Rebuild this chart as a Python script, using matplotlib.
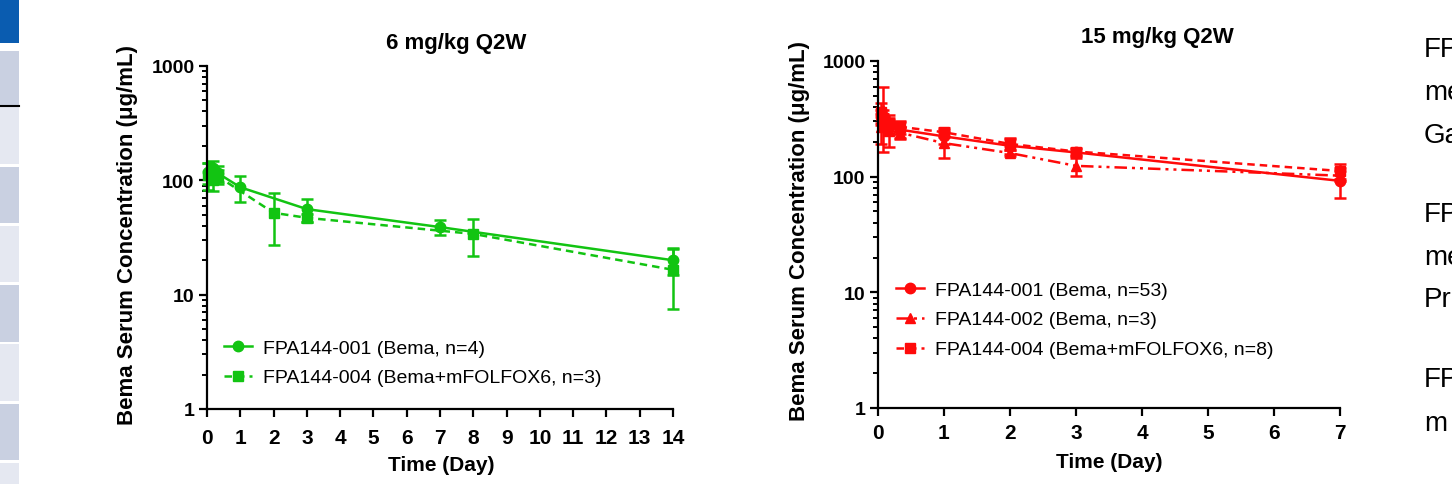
import matplotlib
matplotlib.use('Agg')
import matplotlib.pyplot as plt
import matplotlib.ticker as ticker
from matplotlib.patches import Rectangle
from matplotlib.lines import Line2D

plt.rcParams['font.family'] = ['Liberation Sans', 'DejaVu Sans']

# 6 mg/kg Q2W
low_t1 = [0.042, 0.167, 0.333, 1, 3, 7, 14]
low_v1 = [118, 128, 115, 87, 56, 39, 20]
low_sd1 = [25, 20, 18, 23, 13, 6, 5]
low_t2 = [0.042, 0.167, 0.333, 2, 3, 8, 14]
low_v2 = [112, 100, 108, 52, 47, 34, 16.5]
low_sd2 = [30, 20, 15, 25, 4, 12, 9]
low_labels = ['FPA144-001 (Bema, n=4)', 'FPA144-004 (Bema+mFOLFOX6, n=3)']

# 15 mg/kg Q2W
high_t = [0.042, 0.083, 0.167, 0.333, 1, 2, 3, 7]
high_v1 = [330, 300, 270, 255, 223, 185, 162, 92]
high_sd1 = [50, 45, 40, 40, 32, 28, 10, 26]
high_v2 = [270, 380, 250, 240, 195, 160, 124, 102]
high_sd2 = [80, 215, 70, 30, 50, 10, 22, 10]
high_v3 = [360, 320, 290, 270, 242, 192, 165, 112]
high_sd3 = [70, 60, 50, 35, 20, 22, 12, 17]
high_labels = ['FPA144-001 (Bema, n=53)', 'FPA144-002 (Bema, n=3)',
               'FPA144-004 (Bema+mFOLFOX6, n=8)']

# slide text cut off by the right edge
side_text = ['FPA', 'met', 'Gas', '', 'FPA', 'met', 'Pri', '', 'FPA', 'm']

green = '#12c412'
red = '#ff0a0a'

W, H = 1452, 485
fig = plt.figure(figsize=(W / 100, H / 100), dpi=100)


def px_axes(x0, x1, ytop, ybot):
    return fig.add_axes([x0 / W, 1 - ybot / H, (x1 - x0) / W, (ybot - ytop) / H])


def style_axis(ax, xmax, xpad):
    ax.set_yscale('log')
    ax.set_ylim(1, 1000)
    ax.set_xlim(0, xmax)
    ax.set_xticks(range(0, xmax + 1))
    ax.yaxis.set_major_locator(ticker.LogLocator(base=10, numticks=10))
    ax.yaxis.set_minor_locator(ticker.LogLocator(base=10, subs=range(2, 10), numticks=20))
    ax.yaxis.set_minor_formatter(ticker.NullFormatter())
    ax.yaxis.set_major_formatter(ticker.FuncFormatter(lambda v, p: f'{int(round(v))}'))
    for s in ['top', 'right']:
        ax.spines[s].set_visible(False)
    for s in ['left', 'bottom']:
        ax.spines[s].set_linewidth(1.6)
    ax.tick_params(axis='both', which='major', length=6, width=1.6, pad=3)
    ax.tick_params(axis='y', which='major', labelsize=14)
    ax.tick_params(axis='x', which='major', labelsize=15, pad=xpad)
    ax.tick_params(axis='y', which='minor', length=3.5, width=1.4)
    ax.tick_params(axis='x', which='minor', length=0)
    for lab in ax.get_xticklabels() + ax.get_yticklabels():
        lab.set_fontweight('bold')


def series(ax, t, v, sd, color, marker, ls, label):
    eb = ax.errorbar(t, v, yerr=sd, color=color, marker=marker, markersize=7.5,
                     linestyle=ls, linewidth=1.8, elinewidth=1.8, capsize=4,
                     capthick=1.8, clip_on=False, label=label)
    for art in eb.lines[1] + eb.lines[2]:
        art.set_clip_on(False)
    return Line2D([], [], color=color, marker=marker, markersize=7.5,
                  linestyle=ls, linewidth=1.8)


leg_kw = dict(frameon=False, fontsize=14, handlelength=1.45, handletextpad=0.55,
              labelspacing=0.63, borderpad=0, borderaxespad=0)

# left chart
ax1 = px_axes(207, 673, 67, 410)
h1 = series(ax1, low_t1, low_v1, low_sd1, green, 'o', '-', low_labels[0])
h2 = series(ax1, low_t2, low_v2, low_sd2, green, 's', (0, (3, 2)), low_labels[1])
style_axis(ax1, 14, 8)
fig.legend([h1, h2], low_labels, loc='upper left', bbox_to_anchor=(224 / W, 1 - 340 / H),
           **leg_kw)
fig.text(456 / W, 1 - 43 / H, '6 mg/kg Q2W', ha='center', va='center',
         fontsize=16, fontweight='bold')
fig.text(128 / W, 1 - 235 / H, 'Bema Serum Concentration (\u03bcg/mL)', rotation=90,
         ha='center', va='center', fontsize=16, fontweight='bold')
fig.text(441 / W, 1 - 466 / H, 'Time (Day)', ha='center', va='center',
         fontsize=15, fontweight='bold')

# right chart
ax2 = px_axes(878, 1340, 62, 409)
g1 = series(ax2, high_t, high_v1, high_sd1, red, 'o', '-', high_labels[0])
g2 = series(ax2, high_t, high_v2, high_sd2, red, '^', (0, (5, 2, 1.2, 2, 1.2, 2)), high_labels[1])
g3 = series(ax2, high_t, high_v3, high_sd3, red, 's', (0, (3, 2)), high_labels[2])
style_axis(ax2, 7, 5)
fig.legend([g1, g2, g3], high_labels, loc='upper left', bbox_to_anchor=(896 / W, 1 - 282 / H),
           **leg_kw)
fig.text(1157 / W, 1 - 38 / H, '15 mg/kg Q2W', ha='center', va='center',
         fontsize=16, fontweight='bold')
fig.text(800 / W, 1 - 231 / H, 'Bema Serum Concentration (\u03bcg/mL)', rotation=90,
         ha='center', va='center', fontsize=16, fontweight='bold')
fig.text(1109 / W, 1 - 463 / H, 'Time (Day)', ha='center', va='center',
         fontsize=15, fontweight='bold')

# slide sidebar on the left
boxes = [(0, 44, '#0a5cb0'), (52, 107, '#c9d0e1'), (108, 165, '#e5e8f1'),
         (168, 224, '#c9d0e1'), (227, 283, '#e5e8f1'), (286, 343, '#c9d0e1'),
         (345, 402, '#e5e8f1'), (405, 461, '#c9d0e1'), (464, 485, '#e5e8f1')]
for y0, y1, c in boxes:
    fig.patches.append(Rectangle((0, 1 - y1 / H), 19 / W, (y1 - y0) / H,
                                 transform=fig.transFigure, color=c, lw=0))
fig.add_artist(Line2D([0, 19 / W], [1 - 107 / H, 1 - 107 / H], color='black', lw=1.5,
                      transform=fig.transFigure))

ys = [50, 93, 136, None, 215, 258, 300, None, 380, 424]
for y, s in zip(ys, side_text):
    if y is not None:
        fig.text(1424 / W, 1 - y / H, s, ha='left', va='center', fontsize=20)

fig.savefig('out.png', dpi=100)
